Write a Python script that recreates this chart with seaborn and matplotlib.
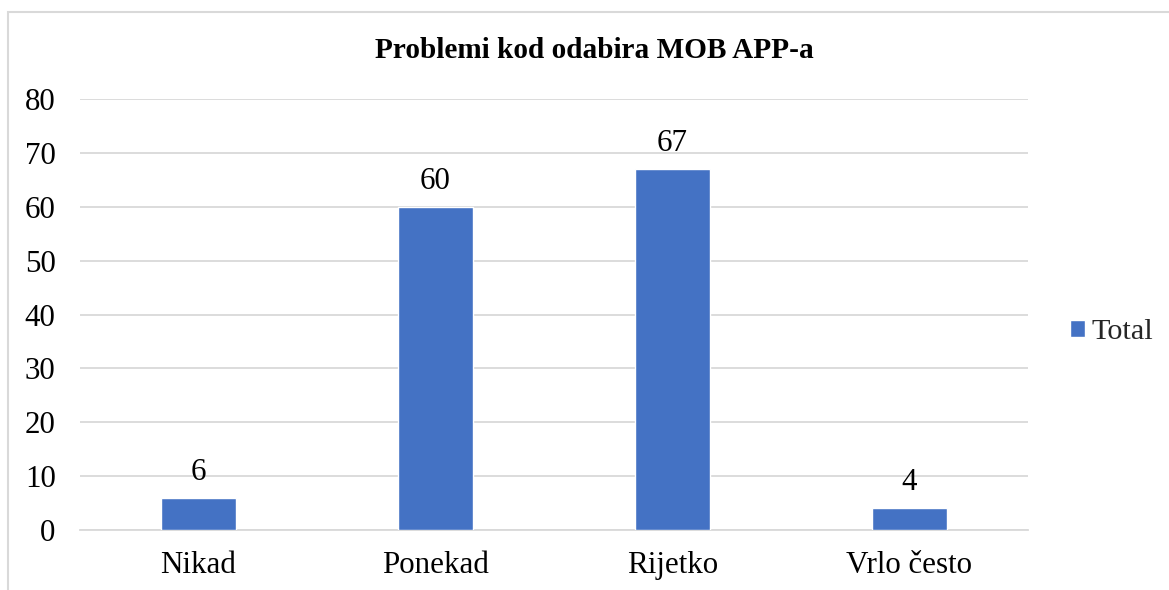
import matplotlib
matplotlib.use("Agg")
import matplotlib.pyplot as plt
import seaborn as sns
import pandas as pd
from matplotlib.patches import Rectangle, Patch

categories = ["Nikad", "Ponekad", "Rijetko", "Vrlo često"]
values = [6, 60, 67, 4]
yticks = [0, 10, 20, 30, 40, 50, 60, 70, 80]
title = "Problemi kod odabira MOB APP-a"
series_name = "Total"

sns.set_theme(style="white")
plt.rcParams['font.family'] = ['Liberation Serif', 'DejaVu Serif']

W, H = 1169, 590
fig = plt.figure(figsize=(W / 100, H / 100), dpi=100)
ax = fig.add_axes([80 / W, 1 - 530 / H, (1028 - 80) / W, (530 - 99) / H])

df = pd.DataFrame({"cat": categories, "val": values})
bar_color = "#4472C4"
sns.barplot(data=df, x="cat", y="val", color=bar_color, width=0.315, ax=ax,
            saturation=1, zorder=3)

FS = 22.3
ax.set_ylim(0, 80)
ax.set_xlim(-0.5, 3.5)
ax.set_yticks(yticks)
ax.yaxis.grid(True, color="#D9D9D9", linewidth=1.3, zorder=0)
ax.set_axisbelow(True)
for s in ["top", "right", "left"]:
    ax.spines[s].set_visible(False)
ax.spines["bottom"].set_color("#D9D9D9")
ax.spines["bottom"].set_linewidth(1.3)
ax.set_xlabel("")
ax.set_ylabel("")
ax.tick_params(axis="y", labelsize=FS, pad=17.5, length=0, colors="black")
ax.tick_params(axis="x", labelsize=FS, pad=15, length=0, colors="black")

for i, v in enumerate(values):
    ax.annotate(str(v), (i, v), xytext=(0, 8), textcoords="offset points",
                ha="center", va="bottom", fontsize=FS, color="black")

fig.text(594 / W, 1 - 51 / H, title, ha="center", va="center",
         fontsize=21.1, fontweight="bold", color="black")

leg = fig.legend(handles=[Patch(facecolor=bar_color, label=series_name)],
                 loc="center left", bbox_to_anchor=(1070 / W, 1 - 332 / H),
                 frameon=False, fontsize=21.8, handlelength=0.5, handleheight=0.5,
                 handletextpad=0.2, borderaxespad=0, borderpad=0)

border = Rectangle((8 / W, -0.1), 1.2, 1 - 11.5 / H + 0.1, transform=fig.transFigure,
                   fill=False, edgecolor="#D9D9D9", linewidth=1.5)
fig.patches.append(border)

fig.savefig("out.png", dpi=100, facecolor="white")
